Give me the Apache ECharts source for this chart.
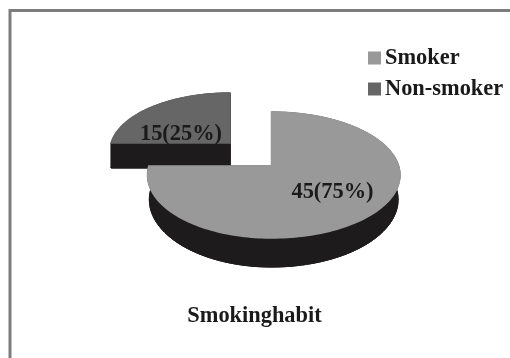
<!DOCTYPE html>
<html>
<head>
<meta charset="utf-8">
<style>html,body{margin:0;padding:0;background:#fff}#chart{width:510px;height:358px}</style>
<script src="https://cdn.jsdelivr.net/npm/echarts@6/dist/echarts.min.js"></script>
</head>
<body>
<div id="chart"></div>
<script>
// Smoking habit of the respondents
const categories = ['Smoker', 'Non-smoker'];
const counts = [45, 15];
const chartTitle = 'Smokinghabit';

const total = counts.reduce((a, b) => a + b, 0);
const FONT = '"Liberation Serif", "Times New Roman", serif';
const SIDE = '#1d1b1b';
const colors = ['#999999', '#666666'];

// Where each wedge sits on the tilted disc and where its label goes
const layouts = [
  { cx: 271.5, cy: 166, left: 124, right: 128.5, back: 54, front: 72, depth: 24, lowX: 0.985, lowY: 1.07, labelX: 332.5, labelY: 192 },
  { cx: 230, cy: 143, left: 120, right: 120, back: 50, front: 66, depth: 25, lowX: 1, lowY: 1, labelX: 181, labelY: 134 }
];

// Perspective projection of a unit-disc point onto the page
function project(l, t, low) {
  const u = Math.sin(t), v = -Math.cos(t);
  const k = (l.front - l.back) / (l.front + l.back);
  const a = l.front * (1 - k);
  const w = 1 - k * v;
  const rx = (u > 0 ? l.right : l.left) * Math.sqrt(1 - k * k);
  const sx = low ? l.lowX : 1, sy = low ? l.lowY : 1;
  return [l.cx + rx * u * sx / w, l.cy + (low ? l.depth : 0) + a * v * sy / w];
}

function arc(l, a0, a1, low) {
  const pts = [];
  const n = Math.max(8, Math.round((a1 - a0) * 40));
  for (let i = 0; i <= n; i++) pts.push(project(l, a0 + (a1 - a0) * i / n, low));
  return pts;
}

function wedgeRenderer(index) {
  return function (params, api) {
    const value = api.value(0);
    const before = counts.slice(0, index).reduce((a, b) => a + b, 0);
    const a0 = before / total * Math.PI * 2;
    const a1 = (before + value) / total * Math.PI * 2;
    const l = layouts[index];
    const topRim = arc(l, a0, a1, false);
    const lowRim = arc(l, a0, a1, true);
    const apexTop = [l.cx, l.cy];
    const apexLow = [l.cx, l.cy + l.depth];
    const dark = { fill: SIDE, stroke: SIDE, lineWidth: 1 };
    const poly = (points, style) => ({ type: 'polygon', shape: { points }, style });
    const pct = Math.round(value / total * 100);
    return {
      type: 'group',
      children: [
        poly([apexLow].concat(lowRim), dark),
        poly(topRim.concat(lowRim.slice().reverse()), dark),
        poly([apexTop, topRim[0], lowRim[0], apexLow], dark),
        poly([apexTop, topRim[topRim.length - 1], lowRim[lowRim.length - 1], apexLow], dark),
        poly([apexTop].concat(topRim), { fill: colors[index], stroke: colors[index], lineWidth: 1.5 }),
        {
          type: 'text',
          style: {
            x: l.labelX, y: l.labelY,
            text: value + '(' + pct + '%)',
            font: 'bold 22.4px ' + FONT,
            fill: '#1a1a1a',
            align: 'center', verticalAlign: 'middle'
          }
        }
      ]
    };
  };
}

const chart = echarts.init(document.getElementById('chart'), null, { renderer: 'canvas' });
chart.setOption({
  animation: false,
  backgroundColor: '#ffffff',
  title: {
    text: chartTitle,
    left: 249.5, top: 300, textAlign: 'center',
    textStyle: { fontFamily: FONT, fontWeight: 'bold', fontSize: 22.4, color: '#1a1a1a' }
  },
  legend: {
    data: categories,
    orient: 'vertical',
    left: 363, top: 42,
    itemWidth: 13, itemHeight: 13, itemGap: 9,
    icon: 'rect',
    selectedMode: false,
    textStyle: { fontFamily: FONT, fontWeight: 'bold', fontSize: 22.4, color: '#1a1a1a', padding: [0, 0, 0, -1] }
  },
  graphic: [{
    type: 'polyline',
    shape: { points: [[10, 358], [10, 10.5], [510, 10.5]] },
    style: { stroke: '#7d7d7d', lineWidth: 3, fill: null }
  }],
  series: categories.map((name, i) => ({
    type: 'custom',
    name,
    coordinateSystem: 'none',
    z: 3 - i,
    itemStyle: { color: colors[i] },
    renderItem: wedgeRenderer(i),
    encode: { value: 0 },
    data: [[counts[i]]]
  }))
});
</script>
</body>
</html>
